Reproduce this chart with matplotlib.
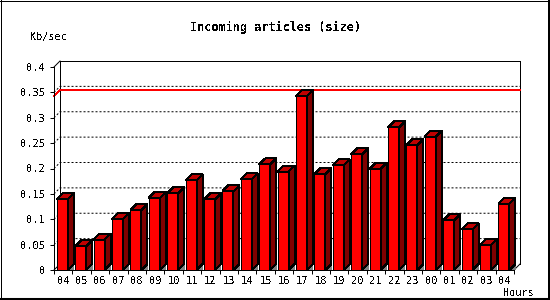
import numpy as np
import matplotlib
matplotlib.use('Agg')
import matplotlib.pyplot as plt
from matplotlib.patches import Polygon
from matplotlib.lines import Line2D

hours = ['04', '05', '06', '07', '08', '09', '10', '11', '12', '13', '14', '15', '16',
         '17', '18', '19', '20', '21', '22', '23', '00', '01', '02', '03', '04']
kb_sec = [0.140, 0.047, 0.060, 0.100, 0.118, 0.142, 0.151, 0.177, 0.139, 0.155, 0.179,
          0.208, 0.194, 0.343, 0.189, 0.206, 0.228, 0.199, 0.281, 0.246, 0.263, 0.098,
          0.080, 0.049, 0.131]
y_ticks = [0, 0.05, 0.1, 0.15, 0.2, 0.25, 0.3, 0.35, 0.4]
y_labels = ['0', '0.05', '0.1', '0.15', '0.2', '0.25', '0.3', '0.35', '0.4']

plt.rcParams['font.family'] = 'DejaVu Sans Mono'
plt.rcParams['text.antialiased'] = False
plt.rcParams['patch.antialiased'] = False

W, H, DPI = 550, 300, 100
fig = plt.figure(figsize=(W / DPI, H / DPI), dpi=DPI)
ax = fig.add_axes([54 / W, 30 / H, 460 / W, 203 / H])
n = len(hours)
x = np.arange(n)
ax.set_xlim(-0.5, n - 0.5)
ax.set_ylim(0, 0.4)

# depth of the fake 3d effect, 6 px, as data units
depth = 6
p0 = ax.transData.transform((0, 0))
dx, dy = ax.transData.inverted().transform(p0 + depth)

lw = 0.72
xl, xr = -0.5, n - 0.5
ymax = 0.4

# back wall outline and corners
ax.plot([xl + dx, xl + dx, xr + dx, xr + dx], [dy, ymax + dy, ymax + dy, dy],
        color='black', lw=lw, clip_on=False, zorder=1, antialiased=False)
ax.plot([xl, xl + dx], [ymax, ymax + dy], color='black', lw=lw, clip_on=False, zorder=1)
ax.plot([xr, xr + dx], [0, dy], color='black', lw=lw, clip_on=False, zorder=1)
ax.plot([xl, xl + dx], [0, dy], color='black', lw=lw, clip_on=False, zorder=1)

# dotted grid on back wall
for v in y_ticks[1:-1]:
    ax.plot([xl, xl + dx, xr + dx], [v, v + dy, v + dy], color='black', lw=lw,
            linestyle=(0, (2, 2)), clip_on=False, zorder=1)

# max line
m = max(kb_sec)
ax.plot([xl, xl + dx, xr + dx], [m, m + dy, m + dy], color='#ff0000', lw=0.5,
        clip_on=False, zorder=1.5, antialiased=False)

# bars
bw = 0.6
off = -0.05
ax.bar(x + off, kb_sec, width=bw, color='#ff0000', edgecolor='black', linewidth=lw, zorder=3)
for xi, v in zip(x, kb_sec):
    l = xi + off - bw / 2
    r = xi + off + bw / 2
    ax.add_patch(Polygon([(r, 0), (r + dx, dy), (r + dx, 0)], closed=True,
                         facecolor='#808080', edgecolor='none', zorder=2, clip_on=False))
    ax.add_patch(Polygon([(r, 0), (r + dx, dy), (r + dx, v + dy), (r, v)], closed=True,
                         facecolor='#800000', edgecolor='black', linewidth=lw, zorder=3,
                         clip_on=False))
    ax.add_patch(Polygon([(l, v), (r, v), (r + dx, v + dy), (l + dx, v + dy)], closed=True,
                         facecolor='#c00000', edgecolor='black', linewidth=lw, zorder=3,
                         clip_on=False))

for s in ['top', 'right']:
    ax.spines[s].set_visible(False)
for s in ['left', 'bottom']:
    ax.spines[s].set_linewidth(lw)
    ax.spines[s].set_zorder(4)
ax.patch.set_visible(False)

ax.set_yticks(y_ticks)
ax.set_yticklabels(y_labels)
ax.set_xticks(x)
ax.set_xticklabels(hours)
ax.set_xticks(np.arange(n + 1) - 0.5, minor=True)
ax.tick_params(axis='y', length=2.88, width=lw, pad=3.2, labelsize=7.5)
ax.tick_params(axis='x', which='major', length=0, pad=4.5, labelsize=7.5)
ax.tick_params(axis='x', which='minor', length=2.88, width=lw)

fig.text(275 / W, 1 - 27 / H, 'Incoming articles (size)', ha='center', va='center',
         fontsize=8.6, fontweight='bold')
fig.text(30 / W, 1 - 37 / H, 'Kb/sec', ha='left', va='center', fontsize=7.3)
fig.text(534 / W, 1 - 293 / H, 'Hours', ha='right', va='center', fontsize=7.3)

# outer frame
fig.add_artist(Line2D([0.5 / W, 0.5 / W], [0, 1], color='black', lw=0.72, transform=fig.transFigure))
fig.add_artist(Line2D([0, 1], [1 - 0.5 / H, 1 - 0.5 / H], color='black', lw=0.72, transform=fig.transFigure))
fig.add_artist(Line2D([549 / W, 549 / W], [0, 1], color='black', lw=1.44, transform=fig.transFigure))
fig.add_artist(Line2D([0, 1], [1.5 / H, 1.5 / H], color='black', lw=2.2, transform=fig.transFigure))

fig.savefig('out.png', dpi=DPI)
